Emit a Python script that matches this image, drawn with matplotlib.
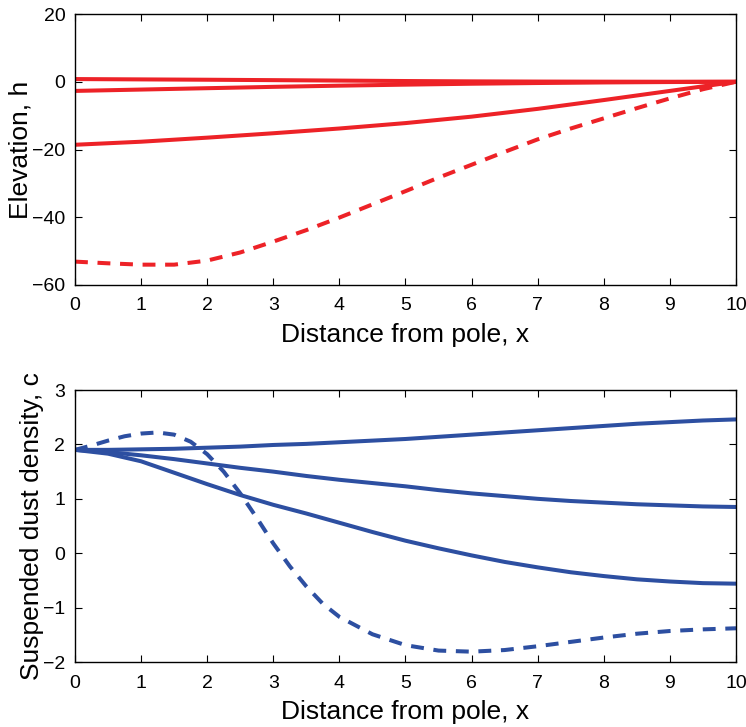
import matplotlib
matplotlib.use('Agg')
import matplotlib.pyplot as plt
import numpy as np

plt.rcParams['font.family'] = ['Liberation Sans', 'DejaVu Sans']

# elevation profiles (top panel)
x_h = [0, 1, 2, 3, 4, 5, 6, 7, 8, 9, 10]
h1 = [0.8, 0.7, 0.6, 0.48, 0.35, 0.22, 0.12, 0.06, 0.03, 0.01, 0.0]
h2 = [-2.7, -2.3, -1.9, -1.5, -1.15, -0.85, -0.58, -0.37, -0.2, -0.08, 0.0]
h3 = [-18.6, -17.7, -16.5, -15.2, -13.8, -12.2, -10.3, -8.0, -5.4, -2.7, 0.0]
x_hd = [0, 0.5, 1, 1.5, 2, 2.5, 3, 3.5, 4, 4.5, 5, 5.5, 6, 6.5, 7, 7.5, 8, 8.5, 9, 9.5, 10]
h_dash = [-53.1, -53.6, -54.0, -54.0, -52.8, -50.4, -47.2, -43.8, -40.1, -36.2, -32.3,
          -28.3, -24.5, -20.7, -17.0, -13.8, -10.8, -7.8, -4.9, -2.2, 0.0]

# suspended dust density (bottom panel)
x_c = [0, 0.5, 1, 1.5, 2, 2.5, 3, 3.5, 4, 4.5, 5, 5.5, 6, 6.5, 7, 7.5, 8, 8.5, 9, 9.5, 10]
c1 = [1.9, 1.9, 1.91, 1.92, 1.94, 1.96, 1.99, 2.01, 2.04, 2.07, 2.1, 2.14, 2.18, 2.22, 2.26,
      2.3, 2.34, 2.38, 2.41, 2.44, 2.46]
c2 = [1.9, 1.86, 1.8, 1.73, 1.65, 1.57, 1.5, 1.42, 1.35, 1.29, 1.23, 1.16, 1.1, 1.05, 1.0,
      0.96, 0.93, 0.9, 0.88, 0.86, 0.85]
c3 = [1.9, 1.83, 1.69, 1.48, 1.27, 1.07, 0.89, 0.73, 0.56, 0.39, 0.23, 0.09, -0.04, -0.16,
      -0.26, -0.35, -0.42, -0.48, -0.52, -0.55, -0.56]
x_cd = [0, 0.25, 0.5, 0.75, 1, 1.25, 1.5, 1.75, 2, 2.25, 2.5, 2.75, 3, 3.25, 3.5, 3.75, 4,
        4.5, 5, 5.5, 6, 6.5, 7, 7.5, 8, 8.5, 9, 9.5, 10]
c_dash = [1.9, 1.98, 2.07, 2.15, 2.2, 2.22, 2.18, 2.05, 1.82, 1.5, 1.1, 0.65, 0.18, -0.24,
          -0.61, -0.93, -1.17, -1.49, -1.69, -1.79, -1.81, -1.78, -1.71, -1.63, -1.55,
          -1.48, -1.43, -1.4, -1.38]

red = '#ED2227'
blue = '#2D4FA1'
lw = 2.9
dash = (0, (3.2, 2.4))

fig = plt.figure(figsize=(7.46, 7.27), dpi=100)
ax1 = fig.add_axes([0.1005, 0.608, 0.8861, 0.3727])
ax2 = fig.add_axes([0.1005, 0.0894, 0.8861, 0.3741])

ax1.plot(x_h, h1, color=red, lw=lw)
ax1.plot(x_h, h2, color=red, lw=lw)
ax1.plot(x_h, h3, color=red, lw=lw)
ax1.plot(x_hd, h_dash, color=red, lw=lw, linestyle=dash)
ax1.set_xlim(0, 10)
ax1.set_ylim(-60, 20)
ax1.set_yticks([-60, -40, -20, 0, 20])

ax2.plot(x_c, c1, color=blue, lw=lw)
ax2.plot(x_c, c2, color=blue, lw=lw)
ax2.plot(x_c, c3, color=blue, lw=lw)
ax2.plot(x_cd, c_dash, color=blue, lw=lw, linestyle=dash)
ax2.set_xlim(0, 10)
ax2.set_ylim(-2, 3)
ax2.set_yticks([-2, -1, 0, 1, 2, 3])

for ax in (ax1, ax2):
    ax.set_xticks(range(0, 11))
    ax.tick_params(direction='in', length=5, width=0.8, top=True, right=True,
                   labelsize=14, pad=7)
    ax.tick_params(axis='x', pad=9)
    for s in ax.spines.values():
        s.set_linewidth(1.0)
    ax.set_xlabel('Distance from pole, x', fontsize=19, labelpad=6)

ax1.set_ylabel('Elevation, h', fontsize=19)
ax2.set_ylabel('Suspended dust density, c', fontsize=19)
ax1.yaxis.set_label_coords(-0.064, 0.5)
ax2.yaxis.set_label_coords(-0.047, 0.5)

fig.savefig('out.png', dpi=100)
